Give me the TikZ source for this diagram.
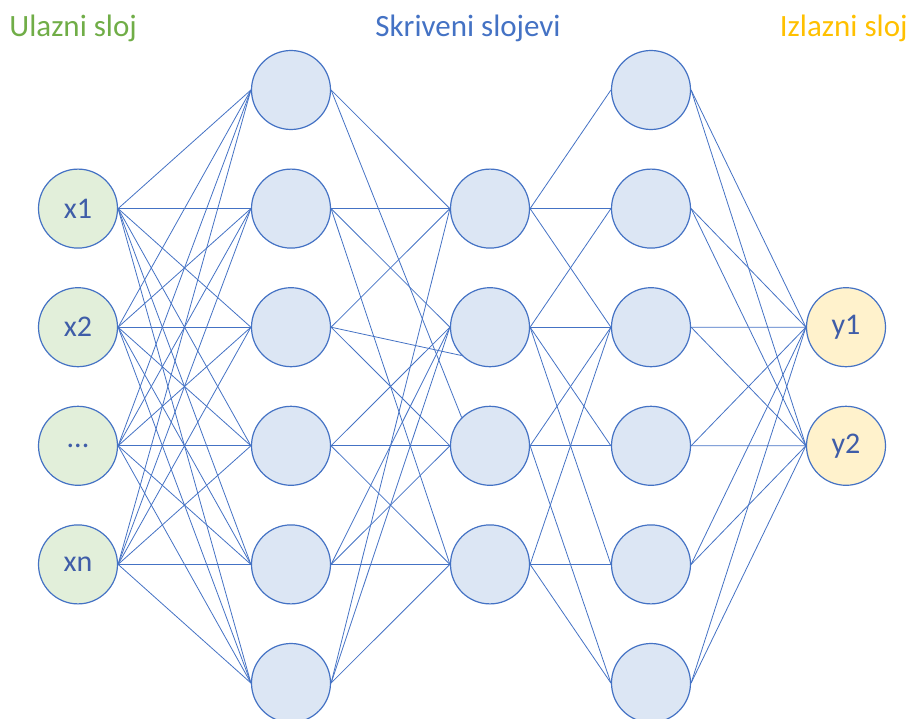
\documentclass[tikz,border=0pt]{standalone}
\usepackage{fontspec}
\setmainfont{Carlito}
\usepackage{tikz}
\usetikzlibrary{backgrounds}
\usepackage{xcolor}
\definecolor{linkblue}{HTML}{4472C4}
\definecolor{textblue}{HTML}{3F5DA8}
\definecolor{hidfill}{HTML}{DCE6F4}
\definecolor{infill}{HTML}{E2EFDA}
\definecolor{outfill}{HTML}{FFF2CC}
\definecolor{ingreen}{HTML}{70AD47}
\definecolor{outgold}{HTML}{FFC000}

\begin{document}
\begin{tikzpicture}[x=1pt,y=-1pt,node distance=118.6pt,
                    line width=0.8pt]
  \tikzstyle{neuron}=[circle,draw=linkblue,line width=1.2pt,fill=hidfill,minimum size=79pt,inner sep=0pt,
                      text=textblue,font=\fontsize{30}{36}\selectfont]
  \tikzstyle{in neuron}=[neuron,fill=infill]
  \tikzstyle{out neuron}=[neuron,fill=outfill]
  \tikzstyle{title}=[inner sep=0pt,font=\fontsize{31}{37}\selectfont]
  \tikzstyle{link}=[draw=linkblue,line width=0.8pt]

  \useasboundingbox (0,0) rectangle (912,719);

  % ulazni sloj
  \node[in neuron] (x1) at (78,208.6) {x1};
  \node[in neuron] (x2) [below of=x1] {x2};
  \node[in neuron] (x3) [below of=x2] {...};
  \node[in neuron] (x4) [below of=x3] {xn};

  % skriveni slojevi
  \node[neuron] (a1) at (291,90) {};
  \node[neuron] (a2) [below of=a1] {};
  \node[neuron] (a3) [below of=a2] {};
  \node[neuron] (a4) [below of=a3] {};
  \node[neuron] (a5) [below of=a4] {};
  \node[neuron] (a6) [below of=a5] {};

  \node[neuron] (b1) at (490,208.6) {};
  \node[neuron] (b2) [below of=b1] {};
  \node[neuron] (b3) [below of=b2] {};
  \node[neuron] (b4) [below of=b3] {};

  \node[neuron] (c1) at (651,90) {};
  \node[neuron] (c2) [below of=c1] {};
  \node[neuron] (c3) [below of=c2] {};
  \node[neuron] (c4) [below of=c3] {};
  \node[neuron] (c5) [below of=c4] {};
  \node[neuron] (c6) [below of=c5] {};

  % izlazni sloj
  \node[out neuron] (y1) at (846,327.2) {y1};
  \node[out neuron] (y2) [below of=y1] {y2};

  \node[title,text=ingreen,anchor=base west] (tin) at (9,37) {Ulazni sloj};
  \node[title,text=linkblue,anchor=base] (thid) at (468,37) {Skriveni slojevi};
  \node[title,text=outgold,anchor=base east] (tout) at (908,37) {Izlazni sloj};

  \begin{scope}[on background layer]
    \foreach \i in {1,...,4}
      \foreach \j in {1,...,6}
        \path[link] (x\i.east) edge (a\j.west);
    \foreach \s/\t in {a1/b1,
                       a2/b1,a2/b2,a2/b4,
                       a3/b1,a3/b3,
                       a4/b2,a4/b3,a4/b4,
                       a5/b2,a5/b3,a5/b4,
                       a6/b1,a6/b2,a6/b4}
      \path[link] (\s.east) edge (\t.west);
    \path[link] (a1.east) edge (b3.north west)
                (a3.east) edge (b2.south west);
    \foreach \s/\t in {b1/c1,b1/c2,b1/c3,
                       b2/c2,b2/c3,b2/c4,b2/c5,
                       b3/c3,b3/c4,b3/c6,
                       b4/c3,b4/c5,b4/c6}
      \path[link] (\s.east) edge (\t.west);
    \foreach \j in {1,...,6}
      \foreach \k in {1,2}
        \path[link] (c\j.east) edge (y\k.west);
  \end{scope}
\end{tikzpicture}
\end{document}
